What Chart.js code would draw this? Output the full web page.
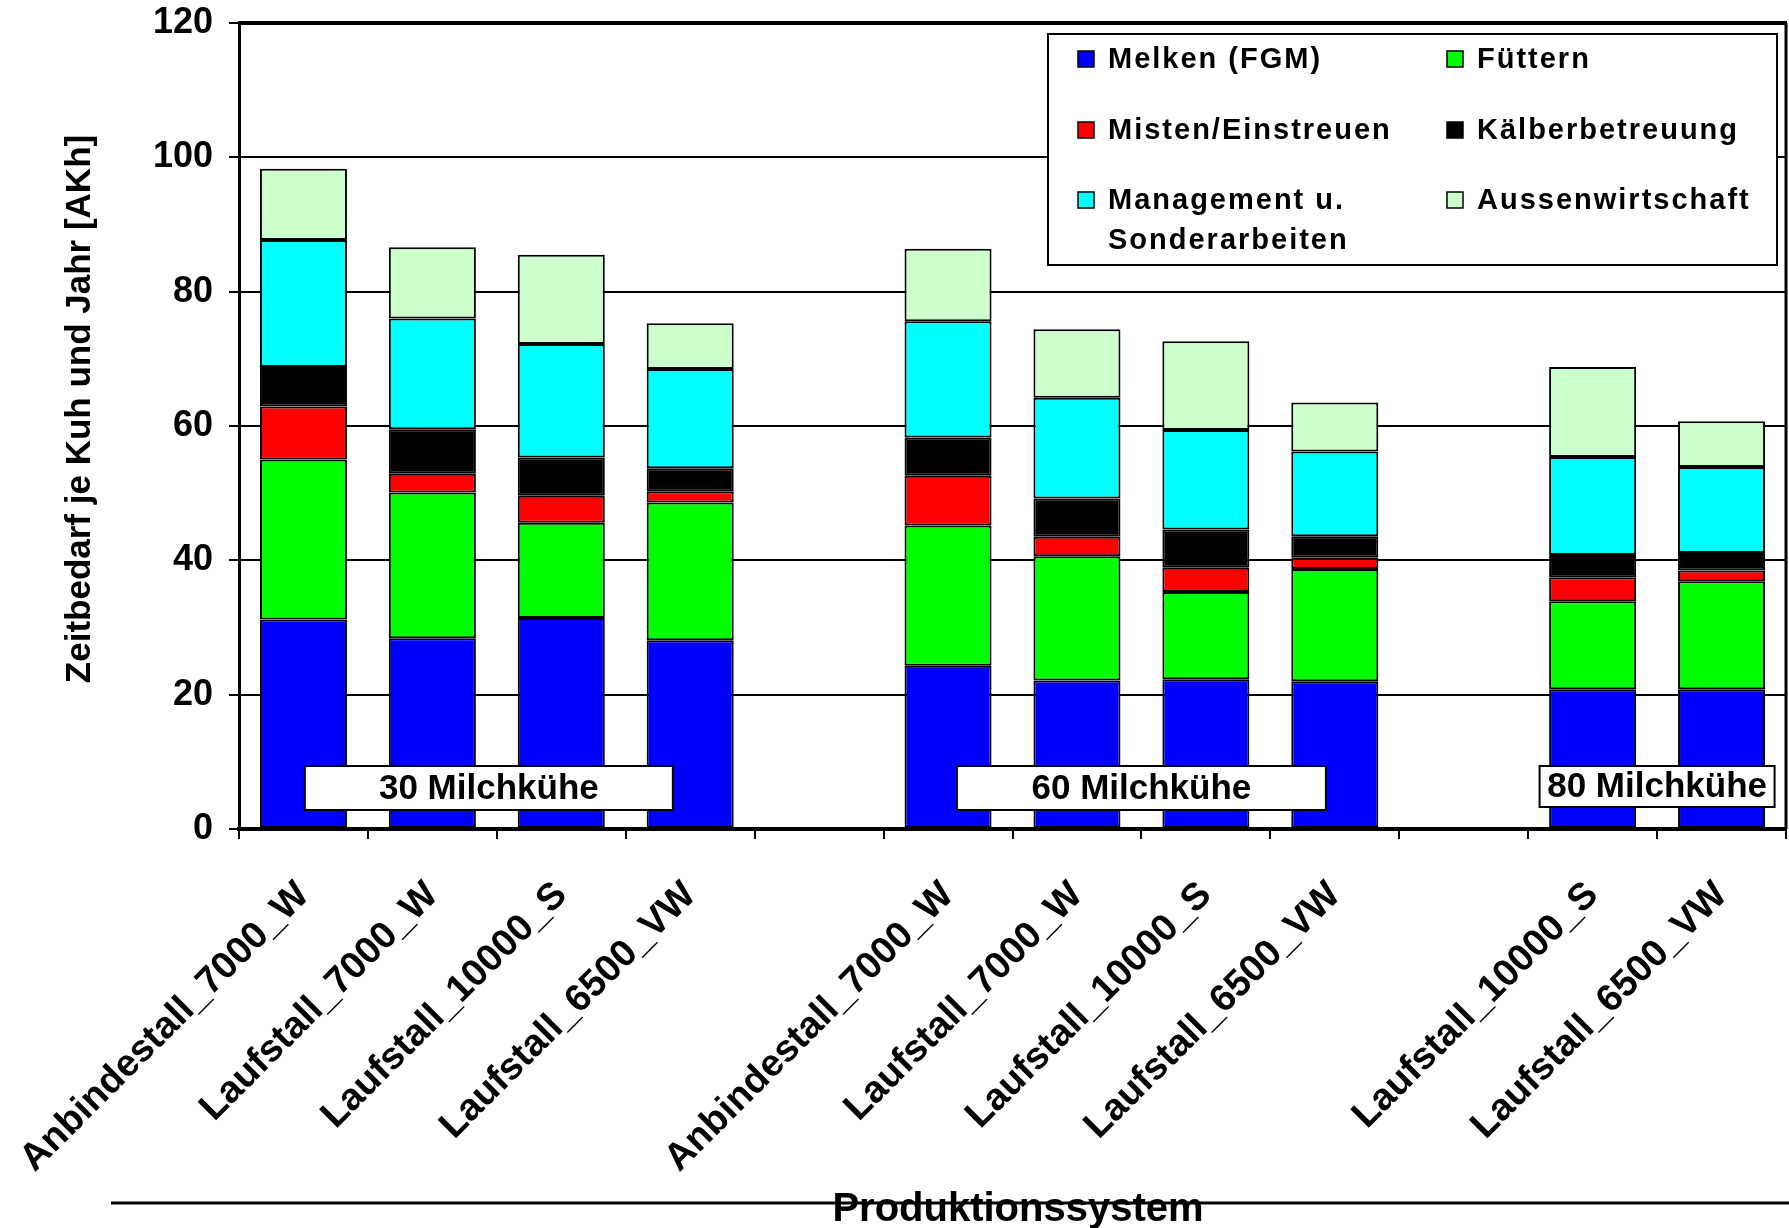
<!DOCTYPE html>
<html lang="de">
<head>
<meta charset="utf-8">
<title>Zeitbedarf je Kuh und Jahr</title>
<script src="https://cdn.jsdelivr.net/npm/chart.js@4.4.1/dist/chart.umd.min.js"></script>
<style>
  html, body { margin: 0; padding: 0; background: #fff; }
</style>
</head>
<body>
<canvas id="time-chart" width="1789" height="1228"></canvas>
<script>
// Данные графика
const categories = [
    'Anbindestall_7000_W', 'Laufstall_7000_W', 'Laufstall_10000_S', 'Laufstall_6500_VW', '',
    'Anbindestall_7000_W', 'Laufstall_7000_W', 'Laufstall_10000_S', 'Laufstall_6500_VW', '',
    'Laufstall_10000_S', 'Laufstall_6500_VW'
];

const melken     = [31.2, 28.4, 31.4, 28.1, null, 24.3, 22.1, 22.3, 22.0, null, 20.8, 20.8];
const fuettern   = [23.8, 21.7, 14.2, 20.5, null, 20.9, 18.5, 13.0, 16.7, null, 13.1, 16.1];
const misten     = [7.9, 2.8, 4.0, 1.7, null, 7.4, 2.9, 3.6, 1.7, null, 3.6, 1.6];
const kaelber    = [5.9, 6.6, 5.7, 3.4, null, 5.7, 5.7, 5.7, 3.2, null, 3.3, 2.6];
const management = [18.9, 16.5, 16.9, 14.8, null, 17.3, 15.0, 14.8, 12.6, null, 14.6, 12.8];
const aussen     = [10.6, 10.6, 13.3, 6.8, null, 10.8, 10.2, 13.2, 7.3, null, 13.4, 6.8];

const seriesNames = [
    'Melken (FGM)', 'Füttern', 'Misten/Einstreuen', 'Kälberbetreuung',
    'Management u.\nSonderarbeiten', 'Aussenwirtschaft'
];
const seriesColors = ['#0000FF', '#00FF00', '#FF0000', '#000000', '#00FFFF', '#CCFFCC'];

const yTicks = [0, 20, 40, 60, 80, 100, 120];

const groupLabels = ['30 Milchkühe', '60 Milchkühe', '80 Milchkühe'];
const groupFirst = [0, 5, 10];
const groupLast = [3, 8, 11];

const yTitle = 'Zeitbedarf je Kuh und Jahr [AKh]';
const xTitle = 'Produktionssystem';

const FONT = "'Liberation Sans', Arial, Helvetica, sans-serif";

// Рамка, подписи групп и заголовки осей
const decorPlugin = {
    id: 'decor',
    afterDatasetsDraw(chart, args, opts) {
        const { ctx, chartArea: a, scales: { x } } = chart;
        ctx.save();
        ctx.strokeStyle = '#000';

        ctx.lineWidth = 4;
        ctx.beginPath();
        ctx.moveTo(a.left - 1, a.top);
        ctx.lineTo(a.right + 1, a.top);
        ctx.stroke();

        ctx.lineWidth = 3;
        ctx.beginPath();
        ctx.moveTo(a.right, a.top);
        ctx.lineTo(a.right, a.bottom);
        ctx.stroke();

        // Подписи групп
        ctx.font = 'bold 35px ' + FONT;
        ctx.textAlign = 'center';
        ctx.textBaseline = 'middle';
        groupLabels.forEach((text, i) => {
            const cx = (x.getPixelForValue(groupFirst[i]) + x.getPixelForValue(groupLast[i])) / 2 + opts.shift[i];
            const [w, h] = opts.sizes[i];
            const top = a.bottom - opts.lift;
            ctx.fillStyle = '#fff';
            ctx.fillRect(cx - w / 2, top, w, h);
            ctx.lineWidth = 2;
            ctx.strokeRect(cx - w / 2, top, w, h);
            ctx.fillStyle = '#000';
            ctx.fillText(text, cx, top + h / 2 + 1);
        });
        ctx.restore();
    },
    afterDraw(chart) {
        const { ctx, chartArea: a } = chart;
        ctx.save();
        ctx.fillStyle = '#000';

        // Заголовок оси Y
        ctx.font = 'bold 35px ' + FONT;
        ctx.textAlign = 'center';
        ctx.textBaseline = 'middle';
        ctx.translate(80, (a.top + a.bottom) / 2 - 17);
        ctx.rotate(-Math.PI / 2);
        ctx.fillText(yTitle, 0, 0);
        ctx.setTransform(1, 0, 0, 1, 0, 0);

        // Линия и заголовок оси X
        ctx.strokeStyle = '#000';
        ctx.lineWidth = 3;
        ctx.beginPath();
        ctx.moveTo(111, 1203);
        ctx.lineTo(chart.width, 1203);
        ctx.stroke();
        ctx.font = 'bold 40px ' + FONT;
        ctx.textBaseline = 'alphabetic';
        ctx.fillText(xTitle, 1018, 1221);
        ctx.restore();
    }
};

// Легенда в две колонки
const legendPlugin = {
    id: 'boxLegend',
    afterDraw(chart, args, opts) {
        const ctx = chart.ctx;
        const b = opts.box;
        ctx.save();
        ctx.fillStyle = '#fff';
        ctx.fillRect(b.left, b.top, b.right - b.left, b.bottom - b.top);
        ctx.strokeStyle = '#000';
        ctx.lineWidth = 2;
        ctx.strokeRect(b.left, b.top, b.right - b.left, b.bottom - b.top);

        ctx.font = 'bold 29px ' + FONT;
        ctx.textAlign = 'left';
        ctx.textBaseline = 'middle';
        if ('letterSpacing' in ctx) ctx.letterSpacing = '2px';

        chart.data.datasets.forEach((ds, i) => {
            const sx = opts.colX[i % 2];
            const cy = opts.rowY[Math.floor(i / 2)];
            ctx.fillStyle = ds.backgroundColor;
            ctx.fillRect(sx, cy - 8, 16, 16);
            ctx.lineWidth = 1.5;
            ctx.strokeRect(sx, cy - 8, 16, 16);
            ctx.fillStyle = '#000';
            ds.label.split('\n').forEach((line, k) => {
                ctx.fillText(line, sx + 30, cy + 1 + k * 40);
            });
        });
        ctx.restore();
    }
};

const seriesData = [melken, fuettern, misten, kaelber, management, aussen];

const datasets = seriesData.map((data, i) => ({
    label: seriesNames[i],
    data: data,
    backgroundColor: seriesColors[i],
    borderColor: '#000',
    borderWidth: 2,
    borderSkipped: false,
    barPercentage: 0.675,
    categoryPercentage: 1
}));

const canvas = document.getElementById('time-chart');

new Chart(canvas, {
    type: 'bar',
    data: { labels: categories, datasets: datasets },
    options: {
        responsive: false,
        animation: false,
        devicePixelRatio: 1,
        layout: { padding: { left: 0, right: 3, top: 23, bottom: 0 } },
        plugins: {
            legend: { display: false },
            tooltip: { enabled: false },
            decor: {
                sizes: [[368, 44], [369, 44], [235, 41]],
                shift: [-8, 0, 0],
                lift: 63
            },
            boxLegend: {
                box: { left: 1048, top: 34, right: 1777, bottom: 265 },
                colX: [1078, 1447],
                rowY: [59, 130, 200]
            }
        },
        scales: {
            x: {
                stacked: true,
                z: 1,
                grid: {
                    display: true,
                    offset: true,
                    drawOnChartArea: false,
                    drawTicks: true,
                    tickLength: 10,
                    color: '#000',
                    lineWidth: 2
                },
                border: { display: true, color: '#000', width: 4 },
                ticks: {
                    autoSkip: false,
                    minRotation: 45,
                    maxRotation: 45,
                    padding: 34,
                    color: '#000',
                    font: { family: FONT, size: 38, weight: 'bold' }
                },
                afterFit(scale) {
                    scale.height = 399;
                    // подписи не должны сдвигать область графика
                    scale.paddingLeft = 0;
                    scale.paddingRight = 0;
                }
            },
            y: {
                stacked: true,
                min: 0,
                max: 120,
                afterBuildTicks(scale) {
                    scale.ticks = yTicks.map(v => ({ value: v }));
                },
                grid: {
                    color: '#000',
                    lineWidth: 2,
                    tickLength: 10,
                    drawTicks: true
                },
                border: { display: true, color: '#000', width: 3 },
                ticks: {
                    padding: 16,
                    color: '#000',
                    font: { family: FONT, size: 36, weight: 'bold' }
                },
                afterFit(scale) {
                    scale.width = 239;
                    scale.paddingTop = 0;
                    scale.paddingBottom = 0;
                }
            }
        }
    },
    plugins: [decorPlugin, legendPlugin]
});
</script>
</body>
</html>
